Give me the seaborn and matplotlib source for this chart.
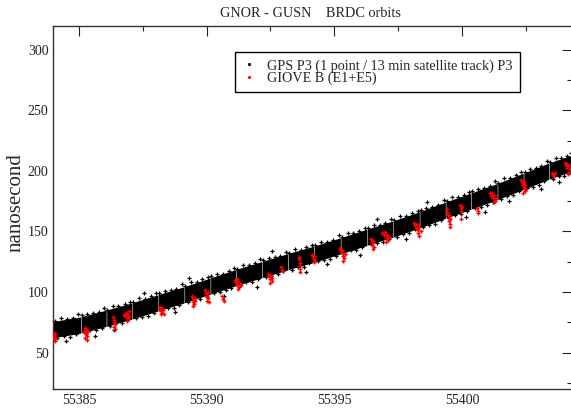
import numpy as np
import pandas as pd
import matplotlib
matplotlib.use("Agg")
import matplotlib.pyplot as plt
from matplotlib.ticker import MultipleLocator
from matplotlib.lines import Line2D
import seaborn as sns


# THE DATA *****************************************************************

# daily clusters of the GPS P3 band (start / end epoch in MJD, band centre in ns)
band_start = [55384.00, 55385.09, 55386.09, 55387.10, 55388.12, 55389.14, 55390.16,
              55391.17, 55392.19, 55393.20, 55394.22, 55395.26, 55396.30, 55397.32,
              55398.35, 55399.37, 55400.37, 55401.40, 55402.42, 55403.42]
band_end = [55385.07, 55386.07, 55387.08, 55388.10, 55389.12, 55390.14, 55391.15,
            55392.17, 55393.18, 55394.20, 55395.24, 55396.28, 55397.30, 55398.33,
            55399.35, 55400.35, 55401.38, 55402.40, 55403.40, 55404.40]
band_mid_start = [69.0, 73.0, 78.5, 84.6, 91.3, 97.9, 105.1, 112.1, 118.7, 125.2,
                  131.4, 138.3, 145.4, 152.2, 159.7, 167.7, 175.2, 183.1, 191.5, 200.0]
band_mid_end = [72.8, 78.3, 84.4, 91.1, 97.7, 104.9, 111.9, 118.5, 125.0, 131.2,
                138.1, 145.2, 152.0, 159.5, 167.5, 175.0, 182.9, 191.3, 199.8, 207.0]
band_spread = 6.7

# scattered GPS points at the edges of the band
gps_t = [55384.05, 55384.16, 55384.29, 55384.41, 55384.54, 55384.64, 55384.77, 55384.88, 55384.96, 55384.48,
         55385.12, 55385.23, 55385.33, 55385.44, 55385.56, 55385.68, 55385.77, 55385.90, 55385.99, 55385.62,
         55386.11, 55386.21, 55386.34, 55386.43, 55386.55, 55386.68, 55386.79, 55386.90, 55387.01, 55386.37,
         55387.13, 55387.23, 55387.35, 55387.47, 55387.59, 55387.70, 55387.81, 55387.93, 55388.03, 55387.54,
         55388.15, 55388.25, 55388.38, 55388.48, 55388.60, 55388.71, 55388.82, 55388.94, 55389.04, 55388.76,
         55389.17, 55389.28, 55389.40, 55389.51, 55389.62, 55389.74, 55389.84, 55389.97, 55390.07, 55389.32,
         55390.19, 55390.29, 55390.40, 55390.51, 55390.65, 55390.76, 55390.86, 55390.97, 55391.08, 55390.70,
         55391.20, 55391.30, 55391.43, 55391.54, 55391.65, 55391.76, 55391.88, 55392.00, 55392.10, 55391.97,
         55392.22, 55392.33, 55392.43, 55392.54, 55392.68, 55392.79, 55392.89, 55393.01, 55393.11, 55392.57,
         55393.23, 55393.33, 55393.46, 55393.57, 55393.68, 55393.80, 55393.90, 55394.02, 55394.12, 55393.89,
         55394.25, 55394.36, 55394.47, 55394.58, 55394.71, 55394.82, 55394.95, 55395.06, 55395.17, 55394.72,
         55395.29, 55395.41, 55395.52, 55395.64, 55395.75, 55395.86, 55395.98, 55396.10, 55396.21, 55396.02,
         55396.33, 55396.43, 55396.56, 55396.67, 55396.78, 55396.90, 55397.00, 55397.13, 55397.23, 55396.69,
         55397.35, 55397.45, 55397.58, 55397.69, 55397.80, 55397.92, 55398.04, 55398.15, 55398.26, 55397.82,
         55398.38, 55398.49, 55398.60, 55398.71, 55398.83, 55398.94, 55399.06, 55399.18, 55399.28, 55398.64,
         55399.40, 55399.50, 55399.62, 55399.73, 55399.84, 55399.96, 55400.06, 55400.18, 55400.28, 55400.15,
         55400.40, 55400.50, 55400.63, 55400.74, 55400.85, 55400.97, 55401.09, 55401.20, 55401.31, 55400.92,
         55401.43, 55401.54, 55401.66, 55401.77, 55401.88, 55401.99, 55402.10, 55402.23, 55402.33, 55401.84,
         55402.45, 55402.55, 55402.67, 55402.78, 55402.89, 55403.01, 55403.11, 55403.23, 55403.33, 55403.10,
         55403.45, 55403.55, 55403.67, 55403.78, 55403.89, 55404.01, 55404.11, 55404.23, 55404.28, 55403.80]
gps_ns = [76.2, 62.1, 78.6, 64.0, 78.0, 63.3, 78.3, 65.2, 81.5, 59.8,
          80.7, 66.8, 82.3, 68.4, 82.6, 68.3, 83.3, 70.0, 86.5, 63.9,
          85.1, 71.8, 88.5, 73.6, 88.3, 74.1, 90.2, 76.9, 92.1, 68.7,
          91.8, 78.5, 94.7, 79.5, 94.4, 80.6, 96.8, 83.1, 99.2, 99.5,
          99.0, 85.2, 101.0, 87.1, 101.4, 87.2, 102.4, 89.1, 106.3, 83.5,
          105.2, 91.4, 108.2, 93.5, 108.3, 94.2, 110.4, 97.3, 112.5, 111.7,
          112.9, 99.1, 114.8, 100.1, 115.0, 101.3, 117.5, 103.7, 120.0, 96.4,
          119.3, 105.5, 122.3, 108.0, 122.2, 108.0, 124.3, 110.5, 127.1, 104.3,
          126.4, 112.6, 128.3, 113.5, 128.9, 114.6, 129.7, 117.0, 133.1, 134.2,
          132.4, 118.5, 135.3, 120.5, 135.1, 120.9, 137.0, 123.7, 138.8, 116.9,
          139.1, 125.3, 141.1, 126.4, 141.7, 127.4, 142.8, 130.0, 146.7, 122.8,
          145.6, 131.8, 148.6, 134.4, 148.7, 134.5, 150.7, 137.1, 152.8, 130.5,
          153.1, 139.3, 155.1, 140.4, 155.6, 141.4, 156.6, 143.9, 160.6, 160.5,
          159.5, 145.7, 162.6, 147.9, 162.8, 148.6, 165.0, 151.8, 167.1, 143.4,
          167.5, 153.9, 169.7, 155.1, 170.5, 156.4, 171.9, 159.2, 176.0, 174.5,
          175.0, 161.2, 178.1, 163.5, 178.3, 164.2, 180.4, 167.3, 182.6, 161.6,
          183.0, 169.3, 185.2, 170.6, 186.0, 171.8, 187.3, 174.6, 191.4, 166.4,
          190.4, 176.8, 193.8, 179.2, 194.1, 180.0, 196.4, 183.5, 198.8, 174.8,
          199.3, 185.7, 201.7, 187.1, 202.6, 188.6, 203.9, 191.5, 208.3, 184.9,
          207.3, 193.5, 210.3, 195.6, 210.4, 196.2, 212.4, 199.3, 214.5, 190.7]

# GIOVE B (E1+E5) points
giove_t = [55384.02, 55384.04, 55384.06, 55384.05, 55384.08, 55384.03,
           55385.22, 55385.25, 55385.27, 55385.29, 55385.31, 55385.33, 55385.26, 55385.30, 55385.35, 55385.24, 55385.28,
           55386.33, 55386.36, 55386.38, 55386.40, 55386.37, 55386.42,
           55386.78, 55386.83, 55386.86, 55386.89, 55386.92, 55386.95, 55386.88, 55386.98,
           55388.12, 55388.17, 55388.20, 55388.24, 55388.27, 55388.31, 55388.35, 55388.22,
           55389.42, 55389.45, 55389.48, 55389.51, 55389.53, 55389.46, 55389.56,
           55389.95, 55389.98, 55390.02, 55390.05, 55390.07, 55390.03, 55390.10, 55390.00,
           55390.62, 55390.66, 55390.69,
           55391.12, 55391.16, 55391.20, 55391.24, 55391.27, 55391.31, 55391.22, 55391.35, 55391.18,
           55392.42, 55392.45, 55392.48, 55392.52, 55392.55, 55392.50, 55392.58,
           55392.92, 55392.95, 55392.98,
           55393.61, 55393.63, 55393.65, 55393.64, 55393.67, 55393.66,
           55394.12, 55394.16, 55394.19, 55394.22, 55394.25, 55394.20,
           55395.22, 55395.26, 55395.29, 55395.32, 55395.35, 55395.38, 55395.33, 55395.42,
           55396.42, 55396.46, 55396.49, 55396.52, 55396.55, 55396.50,
           55396.88, 55396.93, 55396.97, 55397.01, 55397.05, 55397.09, 55397.03, 55397.13,
           55398.12, 55398.17, 55398.21, 55398.25, 55398.29, 55398.33, 55398.27, 55398.38, 55398.31,
           55399.40, 55399.43, 55399.46, 55399.48, 55399.51, 55399.50, 55399.53, 55399.55, 55399.52,
           55399.92, 55399.95, 55399.97, 55400.00, 55399.96,
           55400.60, 55400.62, 55400.64,
           55401.08, 55401.13, 55401.17, 55401.21, 55401.25, 55401.29, 55401.33, 55401.24,
           55402.30, 55402.34, 55402.38, 55402.41, 55402.44, 55402.48, 55402.45, 55402.52, 55402.40,
           55403.52, 55403.56, 55403.60, 55403.64,
           55404.02, 55404.06, 55404.10, 55404.13, 55404.17, 55404.20, 55404.24, 55404.15, 55404.27]
giove_ns = [63.0, 61.0, 65.0, 59.5, 62.5, 66.0,
            68.0, 66.0, 69.5, 65.0, 67.5, 64.0, 62.5, 60.5, 68.0, 70.5, 66.5,
            79.5, 77.0, 75.0, 73.5, 71.0, 69.5,
            81.0, 83.0, 79.5, 82.0, 78.0, 80.5, 76.0, 84.0,
            86.0, 88.0, 84.5, 86.5, 83.0, 85.0, 81.5, 82.0,
            96.5, 94.0, 92.0, 90.5, 93.0, 88.5, 95.5,
            102.0, 99.5, 97.0, 100.0, 95.0, 93.0, 91.5, 96.0,
            96.5, 94.5, 93.0,
            110.0, 108.0, 106.0, 109.0, 104.5, 107.0, 102.5, 105.5, 111.0,
            115.0, 113.0, 111.0, 114.0, 109.0, 107.5, 112.0,
            120.5, 118.5, 117.0,
            129.0, 127.0, 124.0, 121.5, 119.0, 116.5,
            131.0, 129.0, 127.5, 130.0, 126.0, 124.5,
            136.0, 134.0, 132.0, 135.0, 130.0, 128.0, 126.0, 131.5,
            144.0, 141.5, 139.0, 142.0, 137.0, 135.5,
            149.0, 147.0, 149.5, 145.0, 147.5, 143.0, 141.0, 145.5,
            157.0, 155.0, 153.0, 156.0, 151.0, 153.5, 148.5, 150.0, 146.0,
            168.5, 166.0, 163.5, 161.0, 164.0, 158.5, 156.0, 160.0, 154.0,
            171.5, 169.0, 167.0, 170.0, 160.0,
            169.5, 167.0, 165.5,
            181.5, 179.5, 182.0, 177.5, 180.0, 175.5, 178.0, 174.0,
            192.5, 190.5, 188.0, 191.0, 186.0, 188.5, 183.5, 185.0, 182.0,
            198.5, 197.0, 195.5, 198.0,
            206.5, 204.5, 206.0, 202.0, 204.0, 199.5, 201.5, 197.5, 205.0]

title = "GNOR - GUSN    BRDC orbits"
gps_label = "GPS P3 (1 point / 13 min satellite track) P3"
giove_label = "GIOVE B (E1+E5)"


# THE CHART ****************************************************************

sns.set_style("white")
plt.rcParams['font.family'] = ['Liberation Serif', 'DejaVu Serif']

fig = plt.figure(figsize=(5.71, 4.12), dpi=100)
ax = fig.add_axes([53.3 / 571, 23 / 412, 518.5 / 571, 363.5 / 412])

# dense core of each daily GPS cluster
for t0, t1, m0, m1 in zip(band_start, band_end, band_mid_start, band_mid_end):
    ax.fill_between([t0, t1], [m0 - band_spread, m1 - band_spread],
                    [m0 + band_spread, m1 + band_spread], color='black', lw=0, zorder=2)

gps = pd.DataFrame({'mjd': gps_t, 'ns': gps_ns})
giove = pd.DataFrame({'mjd': giove_t, 'ns': giove_ns})

sns.scatterplot(data=gps, x='mjd', y='ns', marker='+', color='black', s=9, linewidth=0.9,
                ax=ax, zorder=3, legend=False)
sns.scatterplot(data=giove, x='mjd', y='ns', marker='+', color='red', s=11, linewidth=1.0,
                ax=ax, zorder=4, legend=False)

ax.set_xlim(55384, 55404.3)
ax.set_ylim(20, 320)
ax.set_xlabel('')
ax.set_ylabel('')

ax.xaxis.set_major_locator(MultipleLocator(5))
ax.xaxis.set_minor_locator(MultipleLocator(2.5))
ax.yaxis.set_major_locator(MultipleLocator(50))
ax.yaxis.set_minor_locator(MultipleLocator(25))
ax.xaxis.set_major_formatter(lambda v, p: f"{v:.0f}")

ax.tick_params(which='both', direction='in', top=True, right=True, color='#222222', width=0.8)
ax.tick_params(which='major', length=7, labelsize=10, pad=3.5, labelcolor='#222222')
ax.tick_params(which='minor', length=3.5)
for s in ax.spines.values():
    s.set_color('#333333')
    s.set_linewidth(1.0)

# legend
handles = [Line2D([], [], ls='', marker='.', ms=2.5, color='black'),
           Line2D([], [], ls='', marker='.', ms=2.5, color='red')]
leg = ax.legend(handles, [gps_label, giove_label], loc='upper left', bbox_to_anchor=(0.351, 0.927),
                borderaxespad=0, fontsize=10.2, frameon=True, fancybox=False, framealpha=1,
                edgecolor='black', handlelength=1.0, handletextpad=0.75, borderpad=0.5,
                labelspacing=-0.1)
leg.get_frame().set_linewidth(1.0)

fig.text(310 / 571, 1 - 13.5 / 412, title, ha='center', va='center', fontsize=10.3)
fig.text(16 / 571, 1 - 203 / 412, 'nanosecond', rotation=90, ha='center', va='center', fontsize=15)

fig.savefig('out.png', dpi=100)
